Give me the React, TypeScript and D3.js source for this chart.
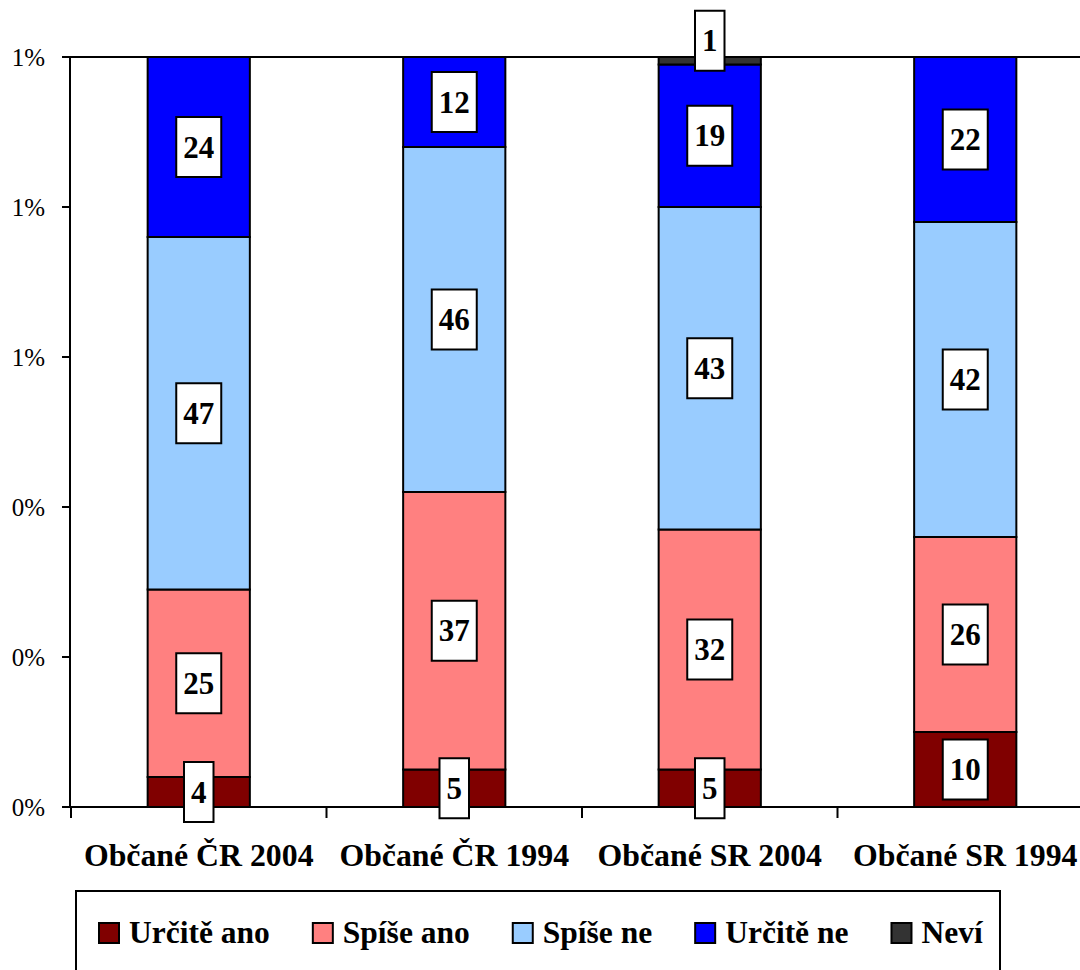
import React, { useLayoutEffect, useRef, useState } from "react";
import * as d3 from "d3";

const categories = ["Občané ČR 2004", "Občané ČR 1994", "Občané SR 2004", "Občané SR 1994"];
const seriesNames = ["Určitě ano", "Spíše ano", "Spíše ne", "Určitě ne", "Neví"];
const seriesColors = ["#800000", "#FF8080", "#99CCFF", "#0000FF", "#333333"];
const urciteAno = [4, 5, 5, 10];
const spiseAno = [25, 37, 32, 26];
const spiseNe = [47, 46, 43, 42];
const urciteNe = [24, 12, 19, 22];
const nevi = [0, 0, 1, 0];
const yTickValues = [0, 20, 40, 60, 80, 100];
const yTickLabels = ["0%", "0%", "0%", "1%", "1%", "1%"];

const W = 1080;
const H = 970;
const FONT = "'Liberation Serif'";
const TS = { fontFamily: FONT };

export default function App() {
  const left = 70;
  const right = 1093;
  const top = 57;
  const bottom = 807;

  const legendRefs = useRef<(SVGTextElement | null)[]>([]);
  const [legendWidths, setLegendWidths] = useState<number[]>(seriesNames.map((s) => s.length * 14));
  useLayoutEffect(() => {
    const ws = legendRefs.current.map((el, i) => (el ? el.getComputedTextLength() : seriesNames[i].length * 14));
    if (ws.some((w, i) => Math.abs(w - legendWidths[i]) > 0.5)) setLegendWidths(ws);
  });

  const series = [urciteAno, spiseAno, spiseNe, urciteNe, nevi];
  const rows = categories.map((c, i) => {
    const r: any = { cat: c };
    seriesNames.forEach((s, j) => (r[s] = series[j][i]));
    return r;
  });
  const stacked = d3.stack<any>().keys(seriesNames)(rows);

  const x = d3.scaleBand<string>().domain(categories).range([left + 1, right]).paddingInner(0.6).paddingOuter(0.3);
  const y = d3.scaleLinear().domain([0, 100]).range([bottom, top]);
  const step = x.step();
  const boundaries = d3.range(categories.length + 1).map((k) => left + 1 + k * step);

  const labelSize = 31;
  const boxH = 60;

  // legend layout
  const legendSize = 31.5;
  let lx = 99;
  const legendItems = seriesNames.map((s, i) => {
    const item = { name: s, color: seriesColors[i], x: lx };
    lx += 20 + 10 + legendWidths[i] + 43;
    return item;
  });

  const labels: any[] = [];
  stacked.forEach((layer, j) => {
    layer.forEach((seg, i) => {
      const v = seg[1] - seg[0];
      if (v <= 0) return;
      const isTop = seg[1] >= 100 && j === seriesNames.length - 1;
      let cy = (y(seg[0]) + y(seg[1])) / 2;
      if (v < 2 && isTop) cy -= 20;
      const text = String(v);
      const w = text.length * 0.5 * labelSize + 14;
      labels.push({ key: `${j}-${i}`, cx: (x(categories[i]) as number) + x.bandwidth() / 2, cy, w, text });
    });
  });

  return (
    <svg width={W} height={H} style={{ position: "absolute", left: 0, top: 0, background: "#fff" }}>
      {/* plot border top / right */}
      <line x1={left} x2={right} y1={top} y2={top} stroke="#000" strokeWidth={2} />
      <line x1={right} x2={right} y1={top} y2={bottom} stroke="#000" strokeWidth={2} />
      {/* bars */}
      {stacked.map((layer, j) => (
        <g key={j} fill={seriesColors[j]}>
          {layer.map((seg, i) =>
            seg[1] - seg[0] > 0 ? (
              <rect
                key={i}
                x={x(categories[i])}
                width={x.bandwidth()}
                y={y(seg[1])}
                height={y(seg[0]) - y(seg[1])}
                stroke="#000"
                strokeWidth={2}
              />
            ) : null
          )}
        </g>
      ))}
      {/* axes */}
      <line x1={left} x2={left} y1={top} y2={bottom + 1} stroke="#000" strokeWidth={2} />
      <line x1={left} x2={right} y1={bottom} y2={bottom} stroke="#000" strokeWidth={2} />
      {yTickValues.map((v, i) => (
        <g key={v}>
          <line x1={left - 8} x2={left} y1={y(v)} y2={y(v)} stroke="#000" strokeWidth={2} />
          <text x={45} y={y(v)} dy="0.34em" textAnchor="end" fontSize={25} style={TS}>
            {yTickLabels[i]}
          </text>
        </g>
      ))}
      {boundaries.map((bx, k) => (
        <line key={k} x1={bx} x2={bx} y1={bottom} y2={bottom + 11} stroke="#000" strokeWidth={2} />
      ))}
      {categories.map((c) => (
        <text key={c} x={(x(c) as number) + x.bandwidth() / 2} y={866} textAnchor="middle" fontSize={31.8} fontWeight="bold" style={TS}>
          {c}
        </text>
      ))}
      {/* data labels */}
      {labels.map((l) => (
        <g key={l.key}>
          <rect x={l.cx - l.w / 2} y={l.cy - boxH / 2} width={l.w} height={boxH} fill="#fff" stroke="#000" strokeWidth={2} />
          <text x={l.cx} y={l.cy} dy="0.34em" textAnchor="middle" fontSize={labelSize} fontWeight="bold" style={TS}>
            {l.text}
          </text>
        </g>
      ))}
      {/* legend */}
      <rect x={76} y={891} width={924} height={100} fill="#fff" stroke="#000" strokeWidth={2} />
      {legendItems.map((it, i) => (
        <g key={it.name}>
          <rect x={it.x} y={923} width={20} height={20} fill={it.color} stroke="#000" strokeWidth={2} />
          <text
            ref={(el) => {
              legendRefs.current[i] = el;
            }}
            x={it.x + 30}
            y={943}
            fontSize={legendSize}
            fontWeight="bold"
            style={TS}
          >
            {it.name}
          </text>
        </g>
      ))}
    </svg>
  );
}
